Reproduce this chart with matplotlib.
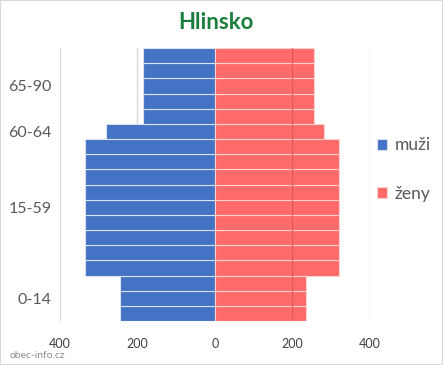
import numpy as np
import matplotlib.pyplot as plt
from matplotlib.patches import Rectangle

# bars listed from the youngest (bottom) to the oldest (top)
muzi = [245, 245, 245,
        336, 336, 336, 336, 336, 336, 336, 336, 336,
        280,
        187, 187, 187, 187, 187]
zeny = [235, 235, 235,
        320, 320, 320, 320, 320, 320, 320, 320, 320,
        281,
        255, 255, 255, 255, 255]
group_pos = [1, 7, 12, 15]
group_labels = ['0-14', '15-59', '60-64', '65-90']
x_ticks = [-400, -200, 0, 200, 400]
x_labels = ['400', '200', '0', '200', '400']

blue = '#4472C4'
red = '#FF6B6B'
plt.rcParams['font.family'] = ['Lato', 'DejaVu Sans']

fig = plt.figure(figsize=(4.43, 3.65), dpi=100)
fig.patches.append(Rectangle((0, 0), 1, 1, transform=fig.transFigure,
                             fill=False, edgecolor='#d9d9d9', lw=1.5))
ax = fig.add_axes([0.1354, 0.1205, 0.6998, 0.748])

y = np.arange(len(muzi))
ax.barh(y, -np.array(muzi), height=1, color=blue, edgecolor='#d9e1f2', lw=0.8, zorder=2, label='muži')
ax.barh(y, zeny, height=1, color=red, edgecolor='#ffd0d0', lw=0.8, zorder=2, label='ženy')

for gx in [-400, -200, 200, 400]:
    ax.axvline(gx, color='#d9d9d9', lw=1, zorder=1)
ax.axvline(200, color='#e05a5a', lw=0.8, zorder=3)

ax.set_xlim(-400, 400)
ax.set_ylim(-0.5, len(muzi) - 0.5)
ax.set_xticks(x_ticks)
ax.set_xticklabels(x_labels)
ax.set_yticks(group_pos)
ax.set_yticklabels(group_labels)
ax.tick_params(axis='x', length=0, pad=12, labelsize=9, labelcolor='#404040')
ax.tick_params(axis='y', length=0, pad=6, labelsize=11.5, labelcolor='#595959')
for s in ax.spines.values():
    s.set_visible(False)

fig.text(0.487, 0.937, 'Hlinsko', ha='center', va='center', fontsize=16,
         fontweight='bold', color='#1a7f3c')
fig.text(0.022, 0.027, 'obec-info.cz', ha='left', va='center', fontsize=7.5, color='#8c8c8c')

ax.legend(loc='center left', bbox_to_anchor=(1.0, 0.555), frameon=False, fontsize=12.5,
          handlelength=0.6, handleheight=0.6, handletextpad=0.4, labelspacing=1.85,
          borderaxespad=0.2, borderpad=0.2, labelcolor='#595959')

fig.savefig('out.png', dpi=100)
